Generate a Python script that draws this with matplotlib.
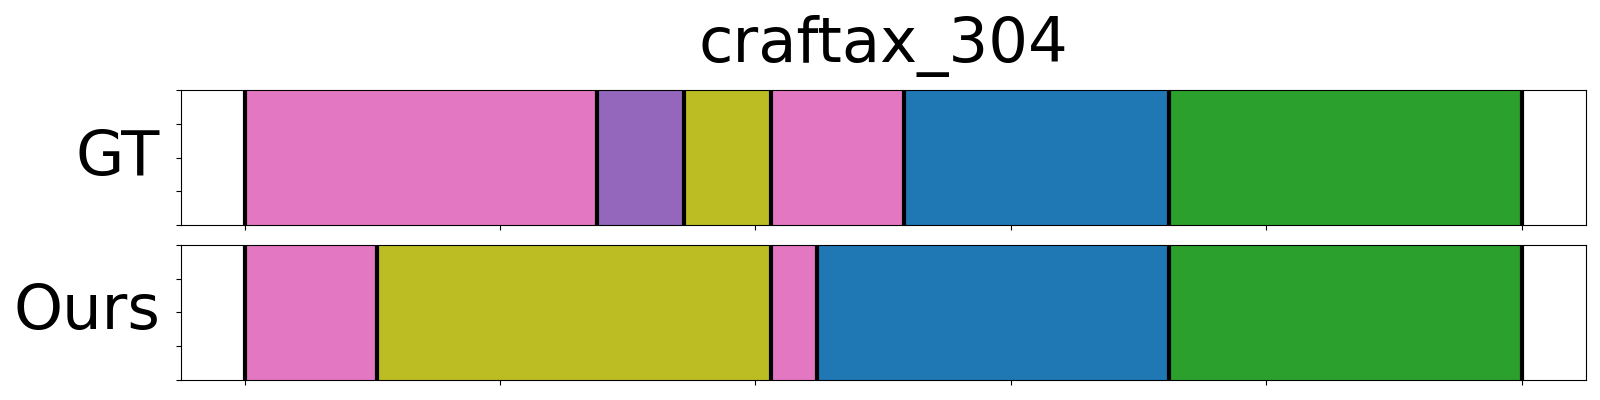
import numpy as np
import matplotlib
matplotlib.use('Agg')
import matplotlib.pyplot as plt

title = 'craftax_304'
row_names = ['GT', 'Ours']
# segment boundaries (frame index) and segment class per row
gt_bounds = [0, 69, 86, 103, 129, 181, 250]
gt_classes = [6, 4, 8, 6, 0, 2]
ours_bounds = [0, 26, 103, 112, 181, 250]
ours_classes = [6, 8, 6, 0, 2]
xticks = [0, 50, 100, 150, 200, 250]

font = 45
cmap = plt.get_cmap('tab10')

fig, ax = plt.subplots(2, 1, figsize=(16, 4), dpi=100, sharex=True)
fig.subplots_adjust(left=0.113, right=0.991, top=0.775, bottom=0.05, hspace=0.148)

rows = [(gt_bounds, gt_classes), (ours_bounds, ours_classes)]
for i, (bounds, classes) in enumerate(rows):
    for j, c in enumerate(classes):
        ax[i].axvspan(bounds[j], bounds[j+1], color=cmap(c), lw=0)
    for b in bounds:
        ax[i].axvline(b, color='black', lw=3)
    span = bounds[-1] - bounds[0]
    ax[i].set_xlim(bounds[0] - 0.05 * span, bounds[-1] + 0.05 * span)
    ax[i].set_ylim(0, 1)
    ax[i].set_yticks(np.linspace(0, 1, 5))
    ax[i].set_yticklabels([])
    ax[i].set_xticks(xticks)
    ax[i].set_xticklabels([])
    ax[i].tick_params(axis='x', labelbottom=False)
    ax[i].set_ylabel(row_names[i], fontsize=font, rotation=0, ha='right', va='center', labelpad=8)

ax[0].set_title(title, fontsize=font, pad=20)
fig.savefig('out.png', dpi=100)
